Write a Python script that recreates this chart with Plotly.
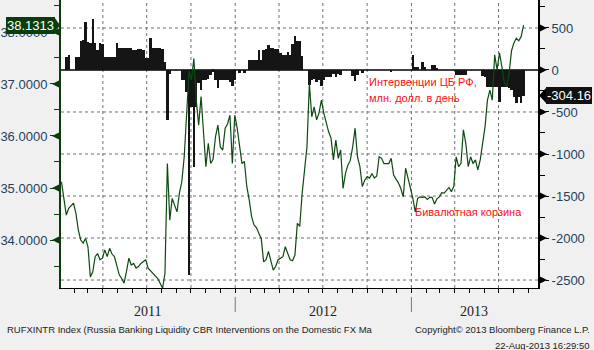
import pandas as pd
import plotly.graph_objects as go

# ---------------- data ----------------
dates = pd.date_range("2011-01-05", periods=193, freq="5D")

basket = [
    35.12, 34.80, 34.48, 34.61, 34.67, 34.71, 34.51, 34.19, 34.00, 33.94,
    34.03, 33.87, 33.29, 33.39, 33.68, 33.74, 33.62, 33.65, 33.81, 33.68,
    33.84, 33.73, 33.68, 33.52, 33.33, 33.26, 33.17, 33.39, 33.65, 33.52,
    33.55, 33.46, 33.49, 33.55, 33.58, 33.62, 33.46, 33.41, 33.36, 33.31,
    33.26, 33.17, 33.07, 33.36, 35.47, 34.38, 34.80, 34.67, 34.54, 34.90,
    35.12, 35.60, 36.56, 37.24, 37.08, 37.49, 36.69, 36.21, 36.76, 35.99,
    35.41, 35.86, 35.47, 35.55, 35.99, 36.21, 35.79, 35.73, 36.15, 36.23,
    36.40, 35.47, 36.40, 36.15, 35.79, 35.47, 35.51, 35.03, 34.77, 34.45,
    34.29, 34.24, 34.13, 34.03, 33.58, 33.62, 33.78, 33.58, 33.42, 33.49,
    33.62, 33.65, 33.68, 33.87, 33.73, 33.62, 33.60, 33.71, 34.32, 34.26,
    34.90, 35.35, 35.79, 37.01, 36.37, 36.56, 36.31, 36.44, 36.69, 36.44,
    36.24, 36.08, 35.96, 35.54, 35.92, 35.57, 35.73, 34.99, 35.28, 35.44,
    35.53, 35.79, 36.15, 35.60, 35.41, 35.03, 35.15, 35.22, 35.19, 35.28,
    35.19, 35.23, 35.60, 35.57, 35.47, 35.47, 35.47, 35.57, 35.25, 35.17,
    35.10, 34.99, 34.83, 35.38, 35.19, 35.03, 34.80, 34.54, 34.80, 34.83,
    34.82, 34.83, 34.78, 34.82, 34.82, 34.69, 34.79, 34.83, 34.91, 34.90,
    34.95, 35.01, 34.93, 35.03, 35.60, 35.41, 35.47, 36.12, 35.86, 35.41,
    35.60, 35.47, 35.54, 35.35, 35.54, 35.83, 36.18, 36.69, 36.88, 36.69,
    37.56, 37.27, 37.60, 37.33, 37.03, 36.95, 37.21, 37.64, 37.79, 37.88,
    37.83, 37.91, 38.1313,
]

interventions = [
    0, 0, 159, 179, 0, 0, 151, 159, 349, 357,
    576, 337, 318, 607, 318, 238, 318, 310, 159, 159,
    159, 159, 159, 318, 258, 258, 258, 258, 258, 258,
    238, 238, 246, 246, 238, 139, 139, 377, 258, 258,
    258, 258, 246, 100, -595, -48, 0, 0, 0, 0,
    -119, -119, -258, -2440, -437, -1150, -437, -159, -238, -119,
    -119, -111, -60, -20, -119, -218, -119, -119, -119, -119,
    -139, -190, -119, 0, -32, 0, -32, 0, 119, 119,
    119, 119, 238, 119, 238, 246, 298, 258, 258, 246,
    246, 198, 179, 179, 218, 179, 310, 405, 345, 345,
    167, 0, 0, -179, -119, -111, -139, -119, -190, -119,
    -87, -79, -79, -48, -79, -48, -60, 0, 0, 0,
    0, -71, -127, -60, 0, -32, 0, 0, 0, 0,
    0, 0, 0, 0, 0, 0, 0, -24, 0, 0,
    0, 0, 0, 0, 0, 0, 179, 40, 40, 0,
    99, 40, 0, 0, 60, 60, 20, 0, 0, 0,
    0, 0, 0, 0, -60, -60, -60, -60, -60, 0,
    0, 0, 0, 0, 0, -71, -79, -198, -198, -198,
    -198, -198, -377, -198, -198, -206, -218, -238, -318, -397,
    -318, -397, -304.16,
]

left_ticks = [34, 35, 36, 37, 38]
right_ticks = [500, 0, -500, -1000, -1500, -2000, -2500]
right_tick_labels = ["500", "0", "-500", "-1000", "-1500", "-2000", "-2500"]
quarter_lines = ["2011-04-01", "2011-07-01", "2011-10-01", "2012-01-01", "2012-04-01",
                 "2012-07-01", "2012-10-01", "2013-01-01", "2013-04-01", "2013-07-01"]
year_labels = ["2011", "2012", "2013"]
year_label_dates = ["2011-07-02", "2012-07-01", "2013-05-12"]
year_breaks = ["2012-01-01", "2013-01-01"]

# ---------------- styles ----------------
GREEN = "#0b3d0b"
LINE = "#0d4a12"
LABEL = "#23415f"
GRID = "#707070"
RED = "#ff1010"

fig = go.Figure()
fig.add_trace(go.Bar(x=dates, y=interventions, yaxis="y",
                     marker=dict(color="#151515", line=dict(width=0)),
                     hoverinfo="skip"))
fig.add_trace(go.Scatter(x=dates, y=basket, yaxis="y2", mode="lines",
                         line=dict(color=LINE, width=1.2), hoverinfo="skip"))

fig.update_layout(
    width=594, height=350,
    margin=dict(l=58, r=56, t=0, b=62),
    paper_bgcolor="#f0f0f0", plot_bgcolor="rgba(0,0,0,0)",
    showlegend=False, bargap=0,
    font=dict(family="Liberation Sans", size=13, color=LABEL),
    xaxis=dict(type="date", range=["2011-01-04", "2013-09-21"],
               tick0="2011-01-01", dtick="M3", showticklabels=False,
               ticks="outside", ticklen=4, tickcolor="black",
               showgrid=False,
               showline=True, linecolor="black", linewidth=1, zeroline=False,
               minor=dict(dtick="M1", tick0="2011-01-01", ticks="outside",
                          ticklen=4, tickcolor="black", showgrid=False)),
    yaxis=dict(side="right", range=[-2595, 833],
               tickmode="array", tickvals=right_ticks, ticktext=right_tick_labels,
               ticks="outside", ticklen=9, tickcolor="black",
               showline=True, linecolor="black", linewidth=2,
               showgrid=False,
               zeroline=False,
               minor=dict(tickmode="linear", tick0=0, dtick=250, ticks="outside",
                          ticklen=5, tickcolor="black", showgrid=False)),
    yaxis2=dict(overlaying="y", side="left", range=[33.077, 38.615],
                tickmode="array", tickvals=left_ticks, tickformat=".4f",
                ticks="outside", ticklen=9, tickcolor=GREEN,
                showline=True, linecolor=GREEN, linewidth=2,
                showgrid=False, zeroline=False,
                minor=dict(tickmode="linear", tick0=33.5, dtick=0.5, ticks="outside",
                           ticklen=5, tickcolor=GREEN, showgrid=False)),
)

shapes = []
# white plot background, then dotted grid (all below traces)
shapes.append(dict(type="rect", xref="paper", yref="paper", x0=0, x1=1, y0=0, y1=1,
                   layer="below", fillcolor="white", line=dict(width=0)))
for d in quarter_lines:
    shapes.append(dict(type="line", xref="x", yref="paper", x0=d, x1=d, y0=0, y1=1,
                       layer="below", line=dict(color=GRID, width=1, dash="dot")))
for v in right_ticks:
    if v != 0:
        shapes.append(dict(type="line", xref="paper", yref="y", x0=0, x1=1, y0=v, y1=v,
                           layer="below", line=dict(color=GRID, width=1, dash="dot")))
# zero line of the interventions axis
shapes.append(dict(type="line", xref="paper", yref="y", x0=0, x1=1, y0=0, y1=0,
                   layer="below", line=dict(color="black", width=1.5)))
# tick arrows
for v in left_ticks:
    shapes.append(dict(type="path", xref="paper", yref="y2", xsizemode="pixel",
                       ysizemode="pixel", xanchor=0, yanchor=v,
                       path="M -2,-3.5 L -2,3.5 L -9,0 Z",
                       fillcolor=GREEN, line=dict(width=0)))
for v in right_ticks:
    shapes.append(dict(type="path", xref="paper", yref="y", xsizemode="pixel",
                       ysizemode="pixel", xanchor=1, yanchor=v,
                       path="M 2,-3.5 L 2,3.5 L 9,0 Z",
                       fillcolor="black", line=dict(width=0)))
# value-label pointers
shapes.append(dict(type="path", xref="paper", yref="y2", xsizemode="pixel",
                   ysizemode="pixel", xanchor=0, yanchor=basket[-1],
                   path="M -7,-8.5 L -7,8.5 L -1,0 Z",
                   fillcolor=GREEN, line=dict(width=0)))
shapes.append(dict(type="path", xref="paper", yref="y", xsizemode="pixel",
                   ysizemode="pixel", xanchor=1, yanchor=interventions[-1],
                   path="M 1,0 L 9,-8.5 L 9,8.5 Z",
                   fillcolor="black", line=dict(width=0)))
# year separators
for d in year_breaks:
    shapes.append(dict(type="line", xref="x", yref="paper", x0=d, x1=d,
                       y0=-0.031, y1=-0.083, line=dict(color="#777777", width=1)))
fig.update_layout(shapes=shapes)

ann = []
for lab, d in zip(year_labels, year_label_dates):
    ann.append(dict(x=d, xref="x", y=-0.08, yref="paper", text=lab, showarrow=False,
                    xanchor="center", yanchor="middle",
                    font=dict(family="Liberation Serif", size=14, color="#222222")))
ann.append(dict(x=0, xref="paper", xanchor="right", xshift=-6,
                y=basket[-1], yref="y2", yanchor="middle",
                text=f"{basket[-1]:.4f}", showarrow=False,
                bgcolor=GREEN, bordercolor=GREEN, borderwidth=1, borderpad=0,
                font=dict(family="Liberation Sans", size=13, color="white")))
ann.append(dict(x=1, xref="paper", xanchor="left", xshift=8,
                y=interventions[-1], yref="y", yanchor="middle",
                text=f"{interventions[-1]:.2f}", showarrow=False,
                bgcolor="#111111", bordercolor="#111111", borderwidth=1, borderpad=0,
                font=dict(family="Liberation Sans", size=13, color="white")))
# red notes
ann.append(dict(x=0.642, xref="paper", y=0.715, yref="paper", xanchor="left",
                yanchor="middle", text="Интервенции ЦБ РФ,", showarrow=False,
                font=dict(family="Liberation Sans", size=11, color=RED)))
ann.append(dict(x=0.642, xref="paper", y=0.660, yref="paper", xanchor="left",
                yanchor="middle", text="млн. долл. в день", showarrow=False,
                font=dict(family="Liberation Sans", size=11, color=RED)))
ann.append(dict(x=0.7375, xref="paper", y=0.264, yref="paper", xanchor="left",
                yanchor="middle", text="Бивалютная корзина", showarrow=False,
                font=dict(family="Liberation Sans", size=11, color=RED)))
# footer
ann.append(dict(x=-0.1167, xref="paper", y=-0.1458, yref="paper", xanchor="left",
                yanchor="middle", showarrow=False,
                text="RUFXINTR Index (Russia Banking Liquidity CBR Interventions on the Domestic FX Ma",
                font=dict(family="Liberation Sans", size=9.5, color="#222222")))
ann.append(dict(x=1.1125, xref="paper", y=-0.1458, yref="paper", xanchor="right",
                yanchor="middle", showarrow=False,
                text="Copyright© 2013 Bloomberg Finance L.P.",
                font=dict(family="Liberation Sans", size=9.5, color="#222222")))
ann.append(dict(x=1.1125, xref="paper", y=-0.198, yref="paper", xanchor="right",
                yanchor="middle", showarrow=False,
                text="22-Aug-2013 16:29:50",
                font=dict(family="Liberation Sans", size=9.5, color="#222222")))
fig.update_layout(annotations=ann)

fig.write_html("out.html")
